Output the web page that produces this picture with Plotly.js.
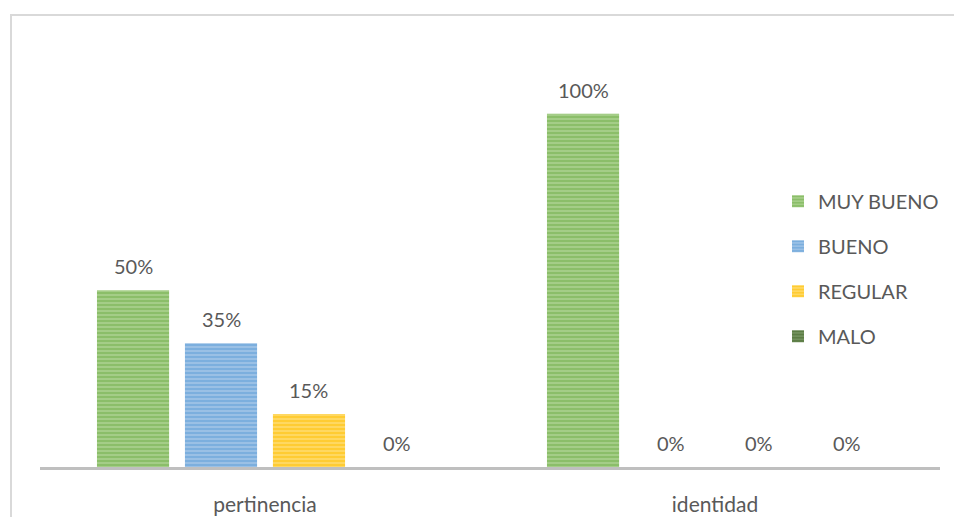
<!DOCTYPE html>
<html><head><meta charset="utf-8">
<script src="https://cdn.plot.ly/plotly-3.0.1.min.js"></script>
<style>html,body{margin:0;padding:0;overflow:hidden;background:#fff}
#frame{position:absolute;left:10px;top:14px;width:1000px;height:600px;border:2px solid #d9d9d9;pointer-events:none}
#chart{width:954px;height:517px}</style>
</head><body>
<div id="chart"></div><div id="frame"></div>
<script>
const categories = ["pertinencia", "identidad"];
const seriesNames = ["MUY BUENO", "BUENO", "REGULAR", "MALO"];
const muyBueno = [50, 100];
const bueno = [35, 0];
const regular = [15, 0];
const malo = [0, 0];
const seriesValues = [muyBueno, bueno, regular, malo];
const fg = ["#70ad47", "#5b9bd5", "#ffc000", "#43682b"];
const bg = ["#a6cf8a", "#9dc2e6", "#ffd966", "#74925f"];
const FONT = "Lato, 'Open Sans', sans-serif";

const bargap = 0.218, bargroupgap = 0.18;
const traces = seriesNames.map((n, i) => ({
  type: "bar", name: n, x: categories, y: seriesValues[i],
  legendgroup: "g" + i,
  marker: {color: bg[i], line: {width: 0},
    pattern: {shape: "-", fgcolor: fg[i], bgcolor: bg[i], size: 4, solidity: 0.55, fillmode: "overlay"}},
  hoverinfo: "skip"
}));
const annotations = [];
seriesValues.forEach((vals, i) => {
  vals.forEach((v, c) => {
    annotations.push({x: c + (i - 1.5) * (1 - bargap) / 4, y: v, xref: "x", yref: "y",
      text: v + "%", showarrow: false, yshift: 24,
      font: {size: 20, color: "#595959", family: FONT}});
  });
});
const layout = {
  width: 954, height: 517,
  margin: {l: 40, r: 14, t: 43, b: 50, autoexpand: false},
  paper_bgcolor: "#fff", plot_bgcolor: "#fff",
  barmode: "group", bargap: bargap, bargroupgap: bargroupgap,
  font: {family: FONT, color: "#595959", size: 20},
  xaxis: {type: "category", showline: true, linecolor: "#bfbfbf", linewidth: 2.5,
    ticks: "outside", ticklen: 17, tickcolor: "rgba(0,0,0,0)", showgrid: false, zeroline: false,
    tickfont: {size: 21, color: "#595959"}},
  yaxis: {range: [0, 120], visible: false, showgrid: false, zeroline: false},
  legend: {x: 0.82, y: 0.673, xanchor: "left", yanchor: "top", traceorder: "grouped",
    tracegroupgap: 16, bgcolor: "rgba(0,0,0,0)", font: {size: 20, color: "#595959"}},
  annotations: annotations,
  showlegend: true
};
Plotly.newPlot("chart", traces, layout, {displayModeBar: false, staticPlot: true});
</script>
</body></html>
